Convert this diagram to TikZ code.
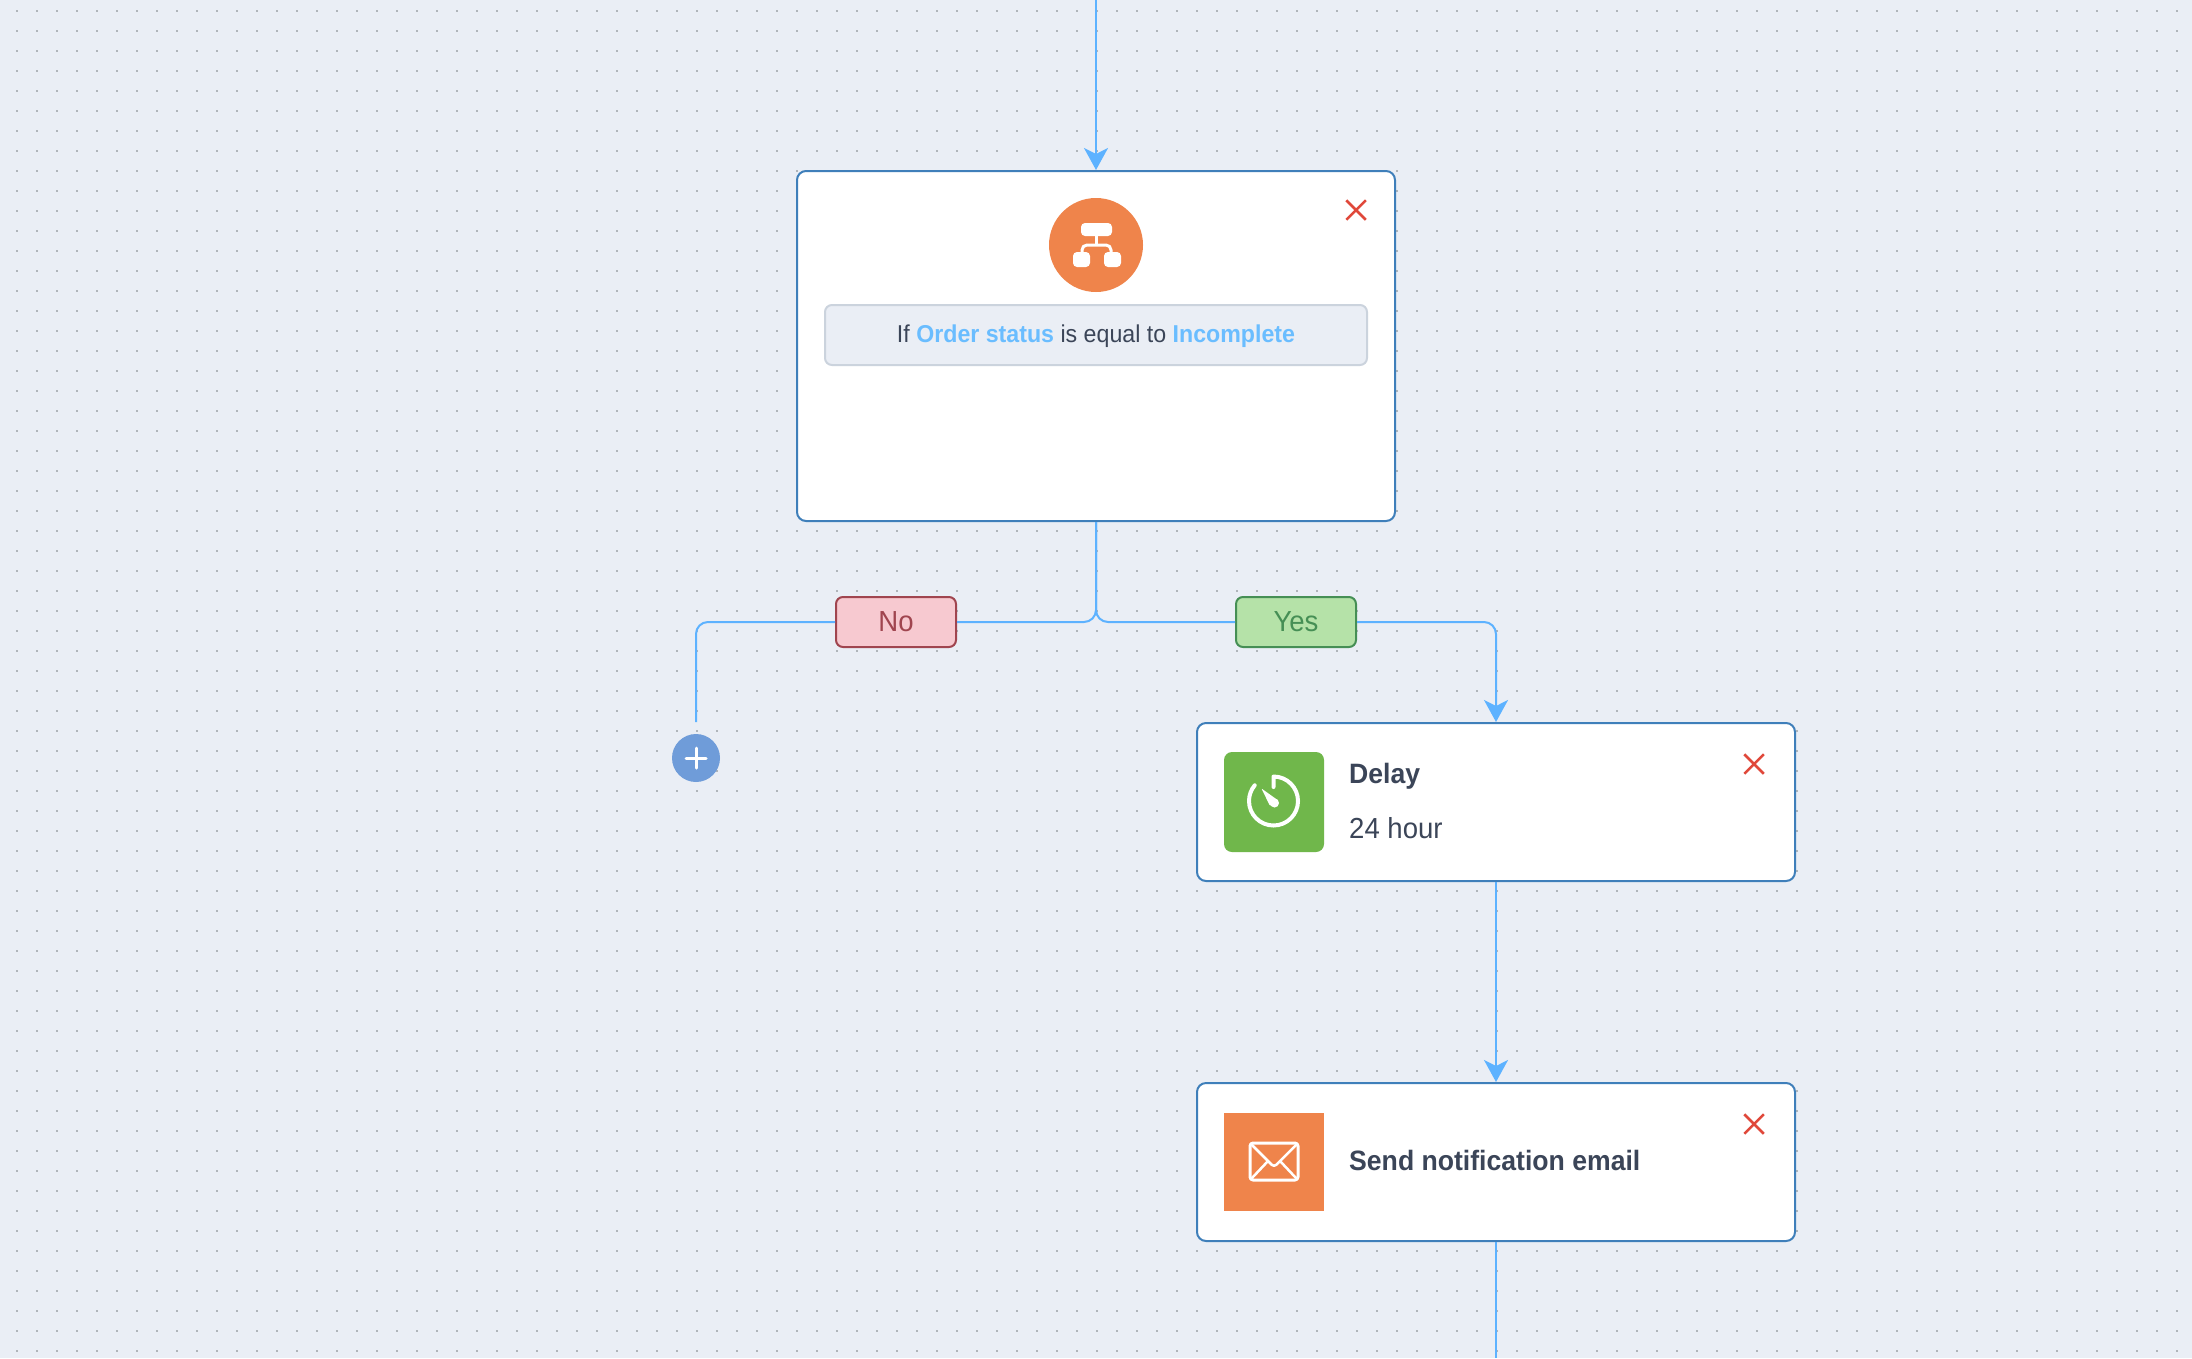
\documentclass[tikz,border=0pt]{standalone}
\usepackage{fontspec}
\setmainfont{Liberation Sans}[FakeStretch=0.95]
\usetikzlibrary{arrows.meta, positioning, shapes.misc}

\definecolor{canvasbg}{HTML}{EAEEF5}
\definecolor{griddot}{HTML}{B0B5BA}
\definecolor{cardedge}{HTML}{3F7FBA}
\definecolor{wireblue}{HTML}{5DB2FF}
\definecolor{closered}{HTML}{E0483A}
\definecolor{inktext}{HTML}{3B4558}
\definecolor{linkblue}{HTML}{6ABDFF}
\definecolor{iconorange}{HTML}{EF844B}
\definecolor{icongreen}{HTML}{70B74B}
\definecolor{addblue}{HTML}{6F9CD9}
\definecolor{noedge}{HTML}{A0454F}
\definecolor{nofill}{HTML}{F7C9D0}
\definecolor{yesedge}{HTML}{468F55}
\definecolor{yesfill}{HTML}{B5E2A8}
\definecolor{condedge}{HTML}{CBD3DD}

\newcommand{\hilite}[1]{\textcolor{linkblue}{\textbf{#1}}}

\tikzset{
    griddots/.style = {griddot, line width=2pt, dash pattern=on 2pt off 18pt},
    card/.style = {draw=cardedge, fill=white, line width=2pt, rounded corners=9pt, minimum width=598pt},
    wire/.style = {wireblue, line width=2pt, rounded corners=12pt},
    flow/.style = {wire, -{Stealth[length=22pt, width=24pt, inset=6pt]}},
    closemark/.style = {draw=closered, line width=2.5pt, cross out, minimum size=17pt, inner sep=0pt},
    iconbox/.style = {minimum width=100pt, inner sep=0pt},
    tag/.style = {draw=#1edge, fill=#1fill, text=#1edge, line width=2pt, rounded corners=7pt,
        minimum width=120pt, minimum height=50pt, font=\fontsize{29}{33}\selectfont},
    condbox/.style = {draw=condedge, fill=canvasbg, line width=2pt, rounded corners=7pt,
        minimum width=542pt, minimum height=60pt, text height=20pt, text depth=4.6pt,
        text=inktext, font=\fontsize{24.4}{28}\selectfont},
    cardtitle/.style = {anchor=west, inner sep=0pt, text=inktext, font=\fontsize{28}{32}\selectfont\bfseries},
    cardtext/.style = {anchor=west, inner sep=0pt, text=inktext, font=\fontsize{29}{33}\selectfont},
    glyph/.style = {white, line width=3pt, line cap=round, line join=round},
}

\begin{document}
\begin{tikzpicture}[x=1pt, y=-1pt, node distance = 360pt, on grid]
        \fill[canvasbg] (0,0) rectangle (2192,1358);
        \useasboundingbox (0,0) rectangle (2192,1358);
        \foreach \y in {11,31,...,1351}
            \draw[griddots] (16,\y) -- (2192,\y);

        \coordinate (entry) at (1096,0);
        \coordinate (exit) at (1496,1358);
        \coordinate (nostub) at (696,722);

        \node (cond) [card, minimum height=350pt] at (1096,346) {};
        \node (condicon) [circle, fill=iconorange, minimum size=94pt, inner sep=0pt] at (1096,245) {};
        \node (condtext) [condbox] at (1096,335) {If \hilite{Order status} is equal to \hilite{Incomplete}};
        \node (condclose) [closemark] at (1356,210) {};

        \node (nolabel) [tag=no] at (896,622) {No};
        \node (yeslabel) [tag=yes] at (1296,622) {Yes};
        \node (addstep) [circle, fill=addblue, minimum size=48pt, inner sep=0pt] at (696,758) {};

        \node (delay) [card, minimum height=158pt] at (1496,802) {};
        \node (delayicon) [iconbox, fill=icongreen, rounded corners=8pt, minimum height=100pt] at (1274,802) {};
        \node (delaytitle) [cardtitle] at (1349,776) {Delay};
        \node (delaytext) [cardtext] at (1349,828) {24 hour};
        \node (delayclose) [closemark] at (1754,764) {};

        \node (notify) [card, minimum height=158pt, below = of delay] {};
        \node (notifyicon) [iconbox, fill=iconorange, minimum height=98pt] at (1274,1162) {};
        \node (notifytitle) [cardtitle] at (1349,1160) {Send notification email};
        \node (notifyclose) [closemark] at (1754,1124) {};

        \draw[flow] (entry) -- (cond.north);
        \draw[wire] (cond.south) |- (nolabel.east);
        \draw[wire] (nolabel.west) -| (nostub);
        \draw[wire] (cond.south) |- (yeslabel.west);
        \draw[flow] (yeslabel.east) -| (delay.north);
        \draw[flow] (delay.south) -- (notify.north);
        \draw[wire] (notify.south) -- (exit);

        \draw[glyph] ([xshift=-10pt]addstep.center) -- ([xshift=10pt]addstep.center);
        \draw[glyph] ([yshift=-10pt]addstep.center) -- ([yshift=10pt]addstep.center);

        \fill[white, rounded corners=4pt] (1081,223) rectangle (1112,236);
        \fill[white, rounded corners=4pt] (1073,252) rectangle (1090,267);
        \fill[white, rounded corners=4pt] (1104,252) rectangle (1121,267);
        \draw[glyph, line cap=butt] (1096,236) -- (1096,245);
        \draw[glyph, line cap=butt, rounded corners=5pt] (1082,253) -- (1082,245) -- (1111,245) -- (1111,253);

        \draw[glyph, line width=4pt] (1273.5,787) -- (1273.5,776.5) arc[start angle=-90, end angle=220, radius=24.5];
        \fill[white, rounded corners=1pt] (1261.5,788.5) -- (1279,801) -- (1270,806) -- cycle;
        \fill[white] (1274.5,803) circle (4.5);

        \draw[glyph, rounded corners=3pt] (1250,1143) rectangle (1298,1180);
        \draw[glyph, line width=2.5pt, rounded corners=3pt] (1251,1144) -- (1274,1167) -- (1297,1144);
        \draw[glyph, line width=2.5pt] (1252,1178) -- (1268,1161);
        \draw[glyph, line width=2.5pt] (1296,1178) -- (1280,1161);
    \end{tikzpicture}
\end{document}
